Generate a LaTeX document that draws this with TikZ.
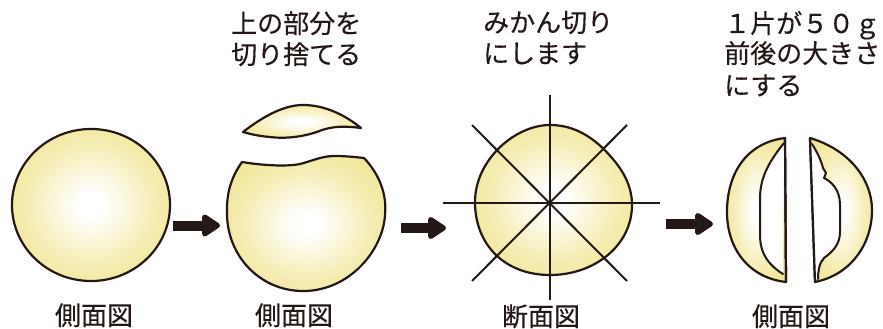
\documentclass[tikz,border=0pt]{standalone}
\usepackage{fontspec}
\setmainfont{Noto Sans CJK JP}[FakeBold=0.3]
\usetikzlibrary{arrows.meta}
\definecolor{ink}{RGB}{35,24,21}
\definecolor{pulpY}{RGB}{236,222,122}
\definecolor{pulpM}{RGB}{245,237,180}
\pgfdeclareradialshading{pulp}{\pgfpoint{0bp}{0bp}}{%
  color(0bp)=(white); color(4bp)=(white); color(20bp)=(pulpM);
  color(40bp)=(pulpY); color(50bp)=(pulpY)}
\tikzset{
  fruit/.style={draw=ink, line width=2.2pt, line join=round, shading=pulp},
  cutface/.style={fill=white, draw=none},
  innerline/.style={draw=ink, line width=2pt, line cap=round, line join=round},
  cutline/.style={draw=ink, line width=2pt},
  edgeline/.style={draw=ink, line width=2.2pt},
  blockarrow/.style={draw=ink, line width=10pt,
    -{Triangle[length=20pt, width=25pt, round]}},
  lbl/.style={text=ink, inner sep=0pt, font=\fontsize{26}{31}\selectfont},
}
\begin{document}
\begin{tikzpicture}[x=1pt, y=-1pt]
\useasboundingbox (0,0) rectangle (883,329);

% whole fruit, side view
\path[fruit] (91,205) ellipse [x radius=79, y radius=76];

% top slice removed
\path[fruit] (243,132) .. controls (265,115) and (285,105) .. (303,105)
  .. controls (325,105) and (345,115) .. (361,128)
  .. controls (345,126) and (335,126) .. (322,130)
  .. controls (305,137) and (285,139) .. (270,137)
  .. controls (258,136) and (250,134) .. (243,132) -- cycle;
\path[fruit] (242,162) .. controls (260,165) and (285,167) .. (300,164)
  .. controls (315,160) and (322,156) .. (335,156)
  .. controls (345,156) and (355,157) .. (364,158)
  .. controls (380,175) and (387,195) .. (385,215)
  .. controls (383,250) and (350,290) .. (305,291)
  .. controls (262,292) and (228,258) .. (227,215)
  .. controls (226,190) and (233,175) .. (242,162) -- cycle;

% cross section with wedge cuts
\path[fruit] (550,125) .. controls (575,125) and (595,138) .. (612,158)
  .. controls (625,173) and (632,188) .. (632,205)
  .. controls (632,245) and (595,275) .. (550,275)
  .. controls (505,275) and (475,245) .. (475,202)
  .. controls (475,160) and (515,125) .. (550,125) -- cycle;
\coordinate (vN) at (550,95);   \coordinate (vS) at (550,300);
\coordinate (hW) at (443,203);  \coordinate (hE) at (660,203);
\coordinate (dNW) at (472,125); \coordinate (dSE) at (627,281);
\coordinate (dNE) at (627,125); \coordinate (dSW) at (472,281);
\draw[cutline] (vN) -- (vS);
\draw[cutline] (hW) -- (hE);
\draw[cutline] (dNW) -- (dSE);
\draw[cutline] (dNE) -- (dSW);

% two wedges, side view
\path[fruit] (785,138) .. controls (745,143) and (727,175) .. (727,212)
  .. controls (727,250) and (750,278) .. (786,282) -- cycle;
\path[cutface] (784,143) .. controls (772,158) and (760,175) .. (760,198)
  -- (760,235) .. controls (760,255) and (770,266) .. (783,274) -- cycle;
\draw[innerline] (784,143) .. controls (772,158) and (760,175) .. (760,198)
  -- (760,235) .. controls (760,255) and (770,266) .. (783,274);
\draw[edgeline] (785,138) -- (786,282);

\path[fruit] (810,138) .. controls (850,150) and (872,180) .. (872,210)
  .. controls (872,245) and (850,275) .. (815,282) -- cycle;
\path[cutface] (812,144) .. controls (817,152) and (821,160) .. (823,168)
  -- (826,173) -- (824,178)
  .. controls (832,182) and (840,190) .. (840,205) -- (840,232)
  .. controls (840,245) and (832,252) .. (824,258)
  .. controls (819,263) and (818,272) .. (818,279)
  -- (814.9,279) -- (810.2,144) -- cycle;
\draw[innerline] (812,144) .. controls (817,152) and (821,160) .. (823,168)
  -- (826,173) -- (824,178)
  .. controls (832,182) and (840,190) .. (840,205) -- (840,232)
  .. controls (840,245) and (832,252) .. (824,258)
  .. controls (819,263) and (818,272) .. (818,279);
\draw[edgeline] (810,138) -- (815,282);

% step arrows
\coordinate (a1s) at (173,225.5); \coordinate (a1e) at (220,225.5);
\coordinate (a2s) at (401,228);   \coordinate (a2e) at (446,228);
\coordinate (a3s) at (666,224);   \coordinate (a3e) at (713,224);
\draw[blockarrow] (a1s) -- (a1e);
\draw[blockarrow] (a2s) -- (a2e);
\draw[blockarrow] (a3s) -- (a3e);

% captions above
\node[lbl, anchor=base west] (t2a) at (231,33) {上の部分を};
\node[lbl, anchor=base west] (t2b) at (231,64) {切り捨てる};
\node[lbl, anchor=base west] (t3a) at (483,32) {みかん切り};
\node[lbl, anchor=base west] (t3b) at (483,63) {にします};
\node[lbl, anchor=base west] (t4a) at (724,33) {１片が５０ｇ};
\node[lbl, anchor=base west] (t4b) at (724,63) {前後の大きさ};
\node[lbl, anchor=base west] (t4c) at (724,95) {にする};

% view labels below
\node[lbl, anchor=base] (v1) at (94,325) {側面図};
\node[lbl, anchor=base] (v2) at (294,325) {側面図};
\node[lbl, anchor=base] (v3) at (541,326) {断面図};
\node[lbl, anchor=base] (v4) at (791,326) {側面図};
\end{tikzpicture}
\end{document}
